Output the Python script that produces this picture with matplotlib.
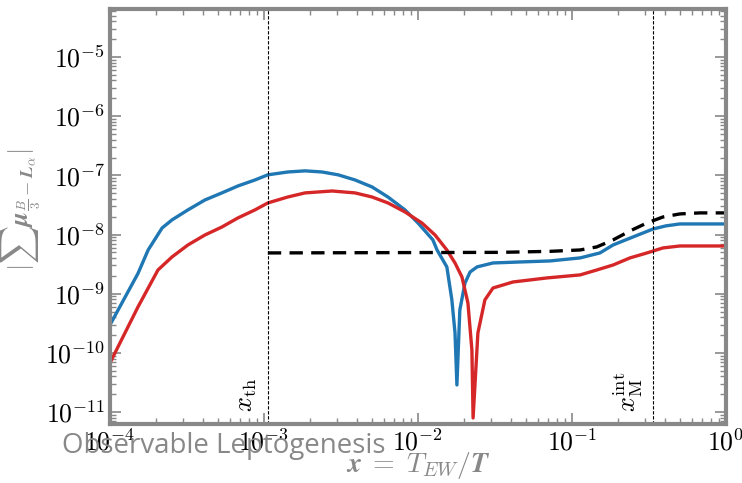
import matplotlib
matplotlib.use("Agg")
import matplotlib.pyplot as plt
from matplotlib.ticker import FuncFormatter, LogLocator, NullFormatter
import numpy as np

plt.rcParams["mathtext.fontset"] = "cm"
plt.rcParams["font.family"] = "serif"

# values (x = T_EW/T)
blue_x = [1.0e-4, 1.52e-4, 1.77e-4, 2.18e-4, 2.53e-4, 3.21e-4, 4.14e-4, 5.33e-4,
          6.78e-4, 8.75e-4, 1.06e-3, 1.43e-3, 1.85e-3, 2.38e-3, 3.03e-3, 3.90e-3,
          5.03e-3, 6.38e-3, 8.23e-3, 1.0e-2, 1.25e-2, 1.33e-2, 1.54e-2, 1.66e-2,
          1.74e-2, 1.79e-2, 1.87e-2, 2.02e-2, 2.18e-2, 2.42e-2, 3.07e-2, 4.59e-2,
          7.19e-2, 0.113, 0.152, 0.185, 0.249, 0.336, 0.407, 0.502, 0.678, 1.0]
blue_y = [2.97e-10, 2.2e-9, 5.49e-9, 1.29e-8, 1.77e-8, 2.61e-8, 3.84e-8, 5.05e-8,
          6.62e-8, 8.36e-8, 1.02e-7, 1.14e-7, 1.19e-7, 1.14e-7, 1.02e-7, 8.36e-8,
          6.37e-8, 4.31e-8, 2.61e-8, 1.57e-8, 8.11e-9, 5.49e-9, 2.84e-9, 7.86e-10,
          2.18e-10, 2.88e-11, 5.32e-10, 1.52e-9, 2.33e-9, 2.84e-9, 3.31e-9, 3.44e-9,
          3.58e-9, 4.03e-9, 4.89e-9, 6.67e-9, 9.1e-9, 1.24e-8, 1.40e-8, 1.51e-8,
          1.51e-8, 1.51e-8]

red_x = [1.0e-4, 1.52e-4, 2.05e-4, 2.53e-4, 3.21e-4, 4.14e-4, 5.33e-4, 6.78e-4,
         8.75e-4, 1.06e-3, 1.43e-3, 1.85e-3, 2.77e-3, 3.90e-3, 5.03e-3, 6.38e-3,
         8.23e-3, 1.06e-2, 1.29e-2, 1.54e-2, 1.74e-2, 1.93e-2, 2.11e-2, 2.24e-2,
         2.28e-2, 2.45e-2, 2.72e-2, 3.07e-2, 4.14e-2, 6.89e-2, 0.113, 0.145,
         0.185, 0.238, 0.307, 0.390, 0.502, 0.678, 1.0]
red_y = [6.78e-11, 5.98e-10, 2.52e-9, 4.19e-9, 6.67e-9, 9.84e-9, 1.34e-8, 1.91e-8,
         2.61e-8, 3.42e-8, 4.31e-8, 5.05e-8, 5.44e-8, 5.05e-8, 4.31e-8, 3.42e-8,
         2.41e-8, 1.57e-8, 9.84e-9, 5.49e-9, 3.31e-9, 1.92e-9, 7.0e-10, 1.12e-10,
         7.98e-12, 2.18e-10, 7.86e-10, 1.25e-9, 1.58e-9, 1.85e-9, 2.08e-9, 2.52e-9,
         3.06e-9, 4.03e-9, 4.89e-9, 5.94e-9, 6.41e-9, 6.41e-9, 6.41e-9]

dash_x = [1.06e-3, 3.4e-2, 7.2e-2, 0.113, 0.145, 0.185, 0.238, 0.307, 0.390,
          0.502, 0.678, 1.0]
dash_y = [4.89e-9, 5.0e-9, 5.2e-9, 5.49e-9, 6.18e-9, 8.11e-9, 1.15e-8, 1.57e-8,
          1.98e-8, 2.23e-8, 2.32e-8, 2.32e-8]

x_th = 1.06e-3
x_M = 0.336

gray = "#888888"

fig = plt.figure(figsize=(7.42, 4.83), dpi=100)
ax = fig.add_axes([0.1482, 0.1222, 0.8302, 0.8592])

ax.plot(blue_x, blue_y, color="#1f77b4", lw=2.4, solid_capstyle="round",
        solid_joinstyle="round")
ax.plot(red_x, red_y, color="#d62728", lw=2.4, solid_capstyle="round",
        solid_joinstyle="round")
ax.plot(dash_x, dash_y, color="black", lw=2.4, ls=(0, (4, 2.5)))

ax.axvline(x_th, color="black", lw=0.8, ls=(0, (3, 1.5)))
ax.axvline(x_M, color="black", lw=0.8, ls=(0, (3, 1.5)))

ax.text(0.93e-3, 1.0e-11, r"$x_{\rm th}$", rotation=90, ha="right", va="bottom",
        fontsize=19)
ax.text(0.30, 1.0e-11, r"$x_{\rm M}^{\rm int}$", rotation=90, ha="right", va="bottom",
        fontsize=19)

ax.set_xscale("log")
ax.set_yscale("log")
ax.set_xlim(1e-4, 1)
ax.set_ylim(10**-11.2, 10**-4.19)

sci = FuncFormatter(lambda v, p: r"$10^{%d}$" % int(np.round(np.log10(v))))
for axis in (ax.xaxis, ax.yaxis):
    axis.set_major_locator(LogLocator(base=10, numticks=20))
    axis.set_minor_locator(LogLocator(base=10, subs=np.arange(2, 10), numticks=20))
    axis.set_major_formatter(sci)
    axis.set_minor_formatter(NullFormatter())

for s in ax.spines.values():
    s.set_color(gray)
    s.set_linewidth(3)
ax.tick_params(which="both", direction="in", top=True, right=True, color=gray,
               labelsize=18.5, labelcolor="black")
ax.tick_params(which="major", length=8, width=1.2)
ax.tick_params(which="minor", length=4, width=1)
ax.tick_params(axis="x", pad=4)

ax.set_xlabel(r"$\boldsymbol{x\;=\;T_{EW}/T}$", fontsize=20, color=gray, va="center")
ax.xaxis.set_label_coords(0.5, -0.099)
ax.set_ylabel(r"$|\sum\boldsymbol{\mu}_{\frac{B}{3}-\boldsymbol{L}_{\alpha}}|$",
              fontsize=19, color=gray, va="center")
ax.yaxis.set_label_coords(-0.143, 0.516)

fig.text(62 / 742, 1 - 453 / 483, "Observable Leptogenesis", color=gray,
         fontsize=19.9, family="Open Sans", ha="left", va="baseline")

fig.savefig("out.png", dpi=100)
